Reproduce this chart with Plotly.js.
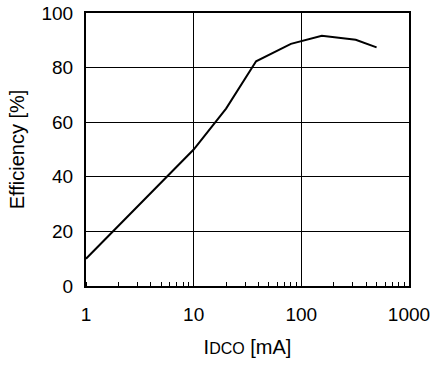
<!DOCTYPE html>
<html>
<head>
<meta charset="utf-8">
<script src="https://cdn.plot.ly/plotly-3.0.1.min.js"></script>
<style>
  html, body { margin: 0; padding: 0; background: #fff; }
  #chart { width: 434px; height: 367px; }
</style>
</head>
<body>
<div id="chart"></div>
<script>
// Output current (mA) and conversion efficiency (%)
const currentMA = [1, 10, 20, 38, 80, 155, 320, 500];
const efficiencyPct = [10, 50, 65, 82.3, 88.7, 91.7, 90.2, 87.4];

const xTickVals = [1, 10, 100, 1000];
const xTickText = ['1', '10', '100', '1000'];
const yTickVals = [0, 20, 40, 60, 80, 100];

const font = 'Liberation Sans, Arial, Helvetica, sans-serif';

const trace = {
  x: currentMA,
  y: efficiencyPct,
  type: 'scatter',
  mode: 'lines',
  line: { color: '#000', width: 2 },
  hoverinfo: 'skip'
};

const layout = {
  width: 434,
  height: 367,
  margin: { l: 86, r: 25, t: 13, b: 81 },
  paper_bgcolor: '#fff',
  plot_bgcolor: '#fff',
  showlegend: false,
  font: { family: font, color: '#000', size: 19 },
  xaxis: {
    type: 'log',
    range: [0, 3],
    tickvals: xTickVals,
    ticktext: xTickText,
    ticks: '',
    ticklabelstandoff: 10,
    showgrid: true,
    gridcolor: '#000',
    gridwidth: 1,
    showline: true,
    linecolor: '#000',
    linewidth: 2,
    mirror: true,
    zeroline: false,
    tickfont: { size: 19 },
    minor: { ticks: 'inside', ticklen: 4, tickcolor: '#000', tickwidth: 1, dtick: 'D1', showgrid: false },
    title: { text: 'I<span style="font-size:16px">DCO</span> [mA]', font: { size: 20 }, standoff: 16 }
  },
  yaxis: {
    range: [0, 100],
    tickvals: yTickVals,
    ticks: '',
    ticklabelstandoff: 7,
    showgrid: true,
    gridcolor: '#000',
    gridwidth: 1,
    showline: true,
    linecolor: '#000',
    linewidth: 2,
    mirror: true,
    zeroline: false,
    tickfont: { size: 19 },
    title: { text: 'Efficiency [%]', font: { size: 20 }, standoff: 11 }
  }
};

Plotly.newPlot('chart', [trace], layout, { staticPlot: true, displayModeBar: false });
</script>
</body>
</html>
